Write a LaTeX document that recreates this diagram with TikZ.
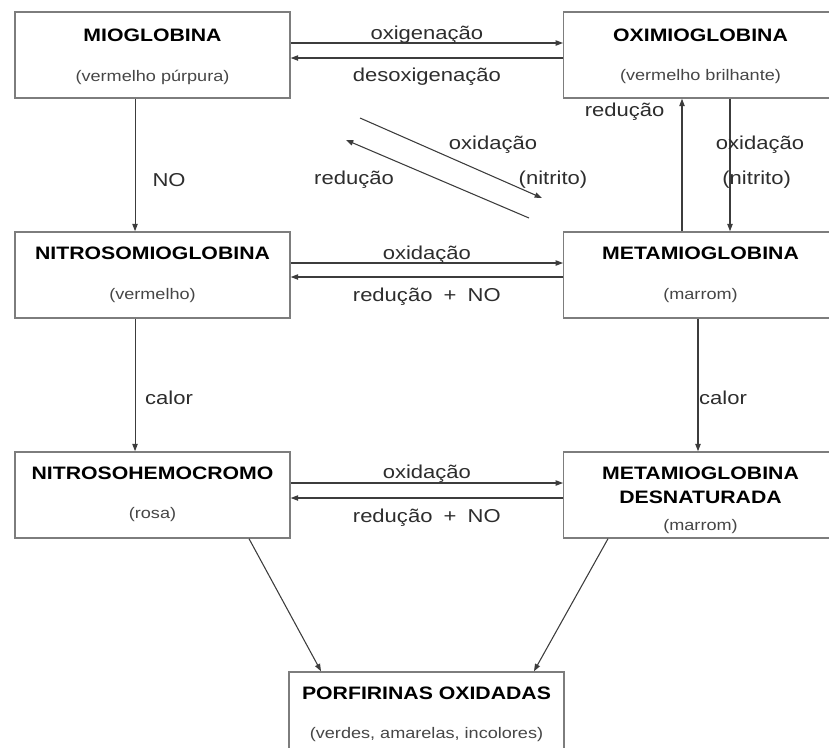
\documentclass[tikz,border=0pt]{standalone}
\usepackage{fontspec}
\setmainfont{Liberation Sans}[FakeStretch=1.18]
\usepackage{tikz}
\usetikzlibrary{arrows.meta, positioning, calc}
\definecolor{boxline}{RGB}{125,125,125}
\definecolor{arrowline}{RGB}{60,60,60}
\definecolor{labeltext}{RGB}{45,45,45}
\definecolor{subtext}{RGB}{70,70,70}
\tikzset{
    box/.style={rectangle, draw=boxline, line width=1.1pt, fill=white, minimum width=206.25pt, minimum height=64.5pt},
    widebox/.style={box, minimum width=240pt, anchor=west},
    title/.style={font=\fontsize{13.5}{15}\selectfont\bfseries, text=black, inner sep=0pt, align=center},
    subtitle/.style={font=\fontsize{11.5}{13}\selectfont, text=subtext, inner sep=0pt},
    lbl/.style={font=\fontsize{14}{16}\selectfont, text=labeltext, inner sep=0pt},
    arrow/.style={-{Triangle[length=5.5pt,width=4pt]}, line width=0.8pt, draw=arrowline}
}

\begin{document}
\begin{tikzpicture}[x=0.75pt, y=-0.75pt]
    \useasboundingbox (0,0) rectangle (829,747);
    \clip (0,0) rectangle (829,747);

    % Boxes (right column runs off the page)
    \node[box] (mio) at (152.5,55) {};
    \node[widebox] (oxi) at (563,55) {};
    \node[box] (nitroso) at (152.5,275) {};
    \node[widebox] (meta) at (563,275) {};
    \node[box] (hemo) at (152.5,495) {};
    \node[widebox] (metad) at (563,495) {};
    \node[box] (porf) at (426.5,715) {};

    % Box texts
    \node[title] (miot) at ($(mio)+(0,-20)$) {MIOGLOBINA};
    \node[subtitle] (mios) at ($(mio)+(0,22)$) {(vermelho púrpura)};
    \node[title] (oxit) at ($(oxi.west)+(137.5,-20)$) {OXIMIOGLOBINA};
    \node[subtitle] (oxis) at ($(oxi.west)+(137.5,22)$) {(vermelho brilhante)};
    \node[title] (nitrosot) at ($(nitroso)+(0,-22)$) {NITROSOMIOGLOBINA};
    \node[subtitle] (nitrosos) at ($(nitroso)+(0,21)$) {(vermelho)};
    \node[title] (metat) at ($(meta.west)+(137.5,-22)$) {METAMIOGLOBINA};
    \node[subtitle] (metas) at ($(meta.west)+(137.5,21)$) {(marrom)};
    \node[title] (hemot) at ($(hemo)+(0,-22)$) {NITROSOHEMOCROMO};
    \node[subtitle] (hemos) at ($(hemo)+(0,20)$) {(rosa)};
    \node[title] (metadt) at ($(metad.west)+(137.5,-22)$) {METAMIOGLOBINA};
    \node[title] (metadt2) at ($(metad.west)+(137.5,2)$) {DESNATURADA};
    \node[subtitle] (metads) at ($(metad.west)+(137.5,32)$) {(marrom)};
    \node[title] (porft) at ($(porf)+(0,-22)$) {PORFIRINAS OXIDADAS};
    \node[subtitle] (porfs) at ($(porf)+(0,20)$) {(verdes, amarelas, incolores)};

    % Horizontal pairs
    \draw[arrow] ([yshift=9pt]mio.east) -- ([yshift=9pt]oxi.west)
        node[lbl, midway, yshift=6pt] {oxigenação};
    \draw[arrow] ([yshift=-2.25pt]oxi.west) -- ([yshift=-2.25pt]mio.east)
        node[lbl, midway, yshift=-14.25pt] {desoxigenação};
    \draw[arrow] ([yshift=9pt]nitroso.east) -- ([yshift=9pt]meta.west)
        node[lbl, midway, yshift=6pt] {oxidação};
    \draw[arrow] ([yshift=-1.5pt]meta.west) -- ([yshift=-1.5pt]nitroso.east)
        node[lbl, midway, yshift=-15pt] {redução\hspace{0.6em}+\hspace{0.6em}NO};
    \draw[arrow] ([yshift=9pt]hemo.east) -- ([yshift=9pt]metad.west)
        node[lbl, midway, yshift=6.75pt] {oxidação};
    \draw[arrow] ([yshift=-2.25pt]metad.west) -- ([yshift=-2.25pt]hemo.east)
        node[lbl, midway, yshift=-15pt] {redução\hspace{0.6em}+\hspace{0.6em}NO};

    % Vertical arrows
    \draw[arrow] ([xshift=-13.1pt]mio.south) -- ([xshift=-13.1pt]nitroso.north)
        node[lbl, pos=0.61, xshift=25.5pt] {NO};
    \draw[arrow] ($(meta.north west)+(119,0)$) -- ($(oxi.south west)+(119,0)$)
        node[lbl, pos=0.9, xshift=-43pt] {redução};
    \draw[arrow] ($(oxi.south west)+(167,0)$) -- ($(meta.north west)+(167,0)$)
        node[lbl, pos=0.35, xshift=22.5pt] {oxidação}
        node[lbl, pos=0.61, xshift=20pt] {(nitrito)};
    \draw[arrow] ([xshift=-13.1pt]nitroso.south) -- ([xshift=-13.1pt]hemo.north)
        node[lbl, pos=0.6, xshift=25.5pt] {calor};
    \draw[arrow] ($(meta.south west)+(135,0)$) -- ($(metad.north west)+(135,0)$)
        node[lbl, pos=0.6, xshift=18.75pt] {calor};

    % Diagonal pair
    \coordinate (oxstart) at (360,118);
    \coordinate (oxend) at (542,198);
    \coordinate (redstart) at (529,218);
    \coordinate (redend) at (346,140);
    \draw[arrow] (oxstart) -- (oxend);
    \draw[arrow] (redstart) -- (redend);
    \node[lbl] (oxlbl) at (493,145) {oxidação};
    \node[lbl] (nitlbl) at (553,180) {(nitrito)};
    \node[lbl] (redlbl) at (354,180) {redução};

    % To porfirinas
    \draw[arrow] ([xshift=72.4pt]hemo.south) -- ([xshift=-79.1pt]porf.north);
    \draw[arrow] ($(metad.south west)+(45,0)$) -- ([xshift=80.6pt]porf.north);
\end{tikzpicture}
\end{document}
